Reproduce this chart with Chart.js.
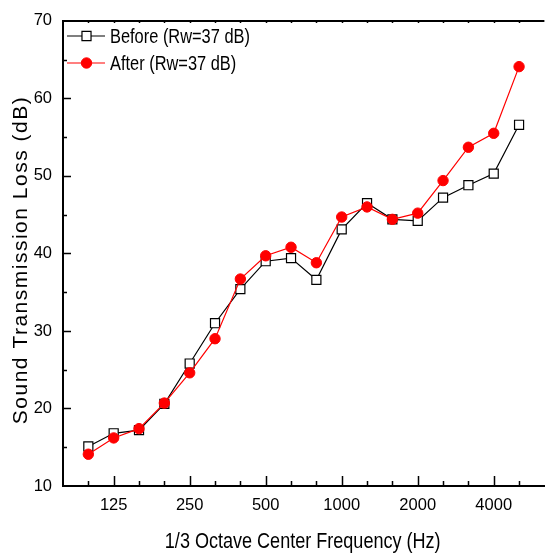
<!DOCTYPE html>
<html>
<head>
<meta charset="utf-8">
<script src="https://cdn.jsdelivr.net/npm/chart.js@4/dist/chart.umd.min.js"></script>
<style>
  html, body { margin: 0; padding: 0; background: #fff; }
  #wrap { width: 552px; height: 554px; }
</style>
</head>
<body>
<div id="wrap"><canvas id="stl"></canvas></div>
<script>
// 1/3 octave band centre frequencies (Hz)
const freqs = [100, 125, 160, 200, 250, 315, 400, 500, 630, 800, 1000, 1250, 1600, 2000, 2500, 3150, 4000, 5000];
const labelledFreqs = [125, 250, 500, 1000, 2000, 4000];

// sound transmission loss (dB)
const before = [15.1, 16.8, 17.2, 20.6, 25.8, 31.0, 35.4, 39.0, 39.4, 36.6, 43.1, 46.5, 44.4, 44.2, 47.2, 48.8, 50.3, 56.6];
const after = [14.1, 16.2, 17.4, 20.7, 24.6, 29.0, 36.7, 39.7, 40.8, 38.8, 44.7, 46.0, 44.4, 45.2, 49.4, 53.7, 55.5, 64.1];

const yTicks = [10, 20, 30, 40, 50, 60, 70];

const sans = "'Liberation Sans', Arial, sans-serif";

function toPoints(arr) {
    return arr.map((v, i) => ({ x: i, y: v }));
}

// narrow-looking text: regular face squeezed horizontally
function condensedText(ctx, text, x, y, size, align) {
    ctx.save();
    ctx.font = size + 'px ' + sans;
    ctx.textAlign = align;
    ctx.translate(x, y);
    ctx.scale(0.82, 1);
    ctx.fillText(text, 0, 0);
    ctx.restore();
}

// frame: top border, inward tick marks, axis titles, legend in the corner
const frame = {
    id: 'frame',
    afterDraw(chart) {
        const ctx = chart.ctx;
        const area = chart.chartArea;
        const xs = chart.scales.x;
        const ys = chart.scales.y;
        ctx.save();
        ctx.strokeStyle = '#000';
        ctx.fillStyle = '#000';

        ctx.lineWidth = 2;
        ctx.beginPath();
        ctx.moveTo(area.left - 1, area.top);
        ctx.lineTo(area.right, area.top);
        ctx.stroke();

        ctx.lineWidth = 1.5;
        ctx.beginPath();
        freqs.forEach((f, i) => {
            const px = Math.round(xs.getPixelForValue(i)) + 0.5;
            const len = labelledFreqs.includes(f) ? 10 : 5;
            ctx.moveTo(px, area.bottom);
            ctx.lineTo(px, area.bottom - len);
            ctx.moveTo(px, area.top);
            ctx.lineTo(px, area.top + 2);
        });
        for (let v = 15; v < 70; v += 5) {
            const py = Math.round(ys.getPixelForValue(v)) + 0.5;
            const len = v % 10 === 0 ? 8 : 4;
            ctx.moveTo(area.left, py);
            ctx.lineTo(area.left + len, py);
        }
        ctx.stroke();

        // y axis title, letter-spaced
        ctx.save();
        ctx.translate(27, 260);
        ctx.rotate(-Math.PI / 2);
        ctx.font = '21px ' + sans;
        ctx.letterSpacing = '1.5px';
        ctx.textAlign = 'center';
        ctx.textBaseline = 'alphabetic';
        ctx.fillText('Sound Transmission Loss (dB)', 0, 0);
        ctx.restore();

        // x axis title
        ctx.textBaseline = 'alphabetic';
        condensedText(ctx, '1/3 Octave Center Frequency (Hz)', (area.left + area.right) / 2 - 1, 548, 22, 'center');

        // legend
        const rows = [
            { ds: chart.data.datasets[1], y: 36 },
            { ds: chart.data.datasets[0], y: 63 }
        ];
        rows.forEach(r => {
            const mx = 86.5;
            ctx.strokeStyle = r.ds.borderColor;
            ctx.lineWidth = r.ds.borderWidth;
            ctx.beginPath();
            ctx.moveTo(67, r.y);
            ctx.lineTo(105, r.y);
            ctx.stroke();
            ctx.fillStyle = r.ds.pointBackgroundColor;
            ctx.strokeStyle = r.ds.pointBorderColor;
            ctx.lineWidth = r.ds.pointBorderWidth;
            ctx.beginPath();
            if (r.ds.pointStyle === 'rect') {
                const s = r.ds.pointRadius * Math.SQRT1_2;
                ctx.rect(mx - s, r.y - s, 2 * s, 2 * s);
            } else {
                ctx.arc(mx, r.y, r.ds.pointRadius, 0, Math.PI * 2);
            }
            ctx.fill();
            ctx.stroke();
            ctx.fillStyle = '#000';
            ctx.textBaseline = 'middle';
            condensedText(ctx, r.ds.label, 110, r.y + 1, 20, 'left');
        });
        ctx.restore();
    }
};

const config = {
    type: 'line',
    data: {
        datasets: [
            {
                label: 'After (Rw=37 dB)',
                data: toPoints(after),
                order: 1,
                borderColor: '#ff0000',
                borderWidth: 1.2,
                pointStyle: 'circle',
                pointRadius: 5.2,
                pointBorderWidth: 1,
                pointBackgroundColor: '#ff0000',
                pointBorderColor: '#ff0000',
                tension: 0
            },
            {
                label: 'Before (Rw=37 dB)',
                data: toPoints(before),
                order: 2,
                borderColor: '#000000',
                borderWidth: 1.2,
                pointStyle: 'rect',
                pointRadius: 6.4,
                pointBorderWidth: 1.2,
                pointBackgroundColor: '#ffffff',
                pointBorderColor: '#000000',
                tension: 0
            }
        ]
    },
    options: {
        responsive: true,
        maintainAspectRatio: false,
        animation: false,
        layout: { padding: { top: 18, right: 0, left: 0, bottom: 0 } },
        plugins: {
            legend: { display: false },
            tooltip: { enabled: false }
        },
        scales: {
            x: {
                type: 'linear',
                min: -1,
                max: 18,
                grid: { display: false, drawTicks: false },
                border: { display: true, color: '#000', width: 2 },
                afterBuildTicks: scale => {
                    scale.ticks = freqs.map((f, i) => ({ value: i }));
                },
                afterFit: scale => { scale.height = 68; },
                ticks: {
                    autoSkip: false,
                    maxRotation: 0,
                    padding: 10,
                    color: '#000',
                    font: { family: sans, size: 16.5 },
                    callback: v => labelledFreqs.includes(freqs[v]) ? String(freqs[v]) : ''
                }
            },
            y: {
                min: 10,
                max: 70,
                grid: { display: false, drawTicks: false },
                border: { display: true, color: '#000', width: 2 },
                afterBuildTicks: scale => {
                    scale.ticks = yTicks.map(v => ({ value: v }));
                },
                afterFit: scale => { scale.width = 63; },
                ticks: {
                    padding: 11,
                    color: '#000',
                    font: { family: sans, size: 16.5 }
                }
            }
        }
    },
    plugins: [frame]
};

new Chart(document.getElementById('stl'), config);
</script>
</body>
</html>
